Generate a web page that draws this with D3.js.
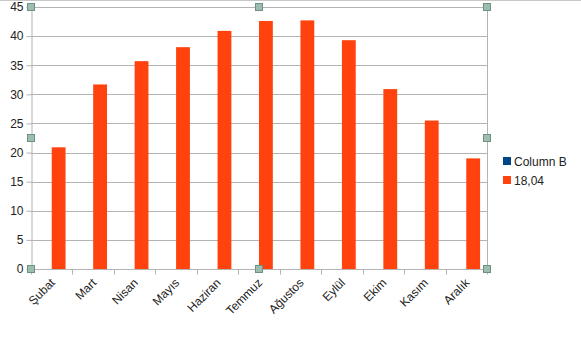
<!DOCTYPE html>
<html>
<head>
<meta charset="utf-8">
<script src="https://d3js.org/d3.v7.min.js"></script>
<style>
  body { margin: 0; background: #fff; }
  text { font-family: "Liberation Sans", Arial, sans-serif; }
</style>
</head>
<body>
<div id="chart"></div>
<script>
'use strict';

// data
const months = ["Şubat", "Mart", "Nisan", "Mayıs", "Haziran", "Temmuz",
  "Ağustos", "Eylül", "Ekim", "Kasım", "Aralık"];
const seriesNames = ["Column B", "18,04"];
const seriesColors = ["#004586", "#ff420e"];
const columnB = [null, null, null, null, null, null, null, null, null, null, null];
const values1804 = [20.9, 31.7, 35.7, 38.1, 40.9, 42.6, 42.7, 39.3, 30.9, 25.5, 19.0];
const yTicks = [0, 5, 10, 15, 20, 25, 30, 35, 40, 45];

const W = 581, H = 339;
let margin = {top: 7, right: 94, bottom: 70, left: 31},
  width = W - margin.left - margin.right,
  height = H - margin.top - margin.bottom;

let svg = d3.select("#chart").append("svg")
  .attr("width", W)
  .attr("height", H);

// thin frame line at the top of the window
svg.append("line")
  .attr("x1", 0).attr("x2", W)
  .attr("y1", 0.5).attr("y2", 0.5)
  .style("stroke", "#c8c8c8");

let g = svg.append("g")
  .attr("transform", "translate(" + margin.left + "," + margin.top + ")");

let x = d3.scaleBand()
  .domain(months)
  .range([0, width]);

// two series side by side in each category (Column B is empty)
let x1 = d3.scaleBand()
  .domain(seriesNames)
  .range([0, x.bandwidth()])
  .paddingOuter(0.5)
  .paddingInner(0);

let y = d3.scaleLinear()
  .domain([0, 45])
  .range([height, 0]);

// gridlines
g.append("g")
  .selectAll("line")
  .data(yTicks)
  .enter()
  .append("line")
  .attr("x1", 0).attr("x2", width)
  .attr("y1", d => Math.round(y(d)) + 0.5)
  .attr("y2", d => Math.round(y(d)) + 0.5)
  .style("stroke", "#b3b3b3");

// right border of plot area
g.append("line")
  .attr("x1", width + 0.5).attr("x2", width + 0.5)
  .attr("y1", 0).attr("y2", height)
  .style("stroke", "#b3b3b3");

// bars
const rows = months.map((m, i) => ({month: m, vals: [columnB[i], values1804[i]]}));
let groups = g.selectAll(".grp")
  .data(rows)
  .enter()
  .append("g")
  .attr("transform", d => "translate(" + x(d.month) + ",0)");

groups.selectAll("rect")
  .data(d => d.vals.map((v, k) => ({name: seriesNames[k], value: v, k: k})).filter(d => d.value != null))
  .enter()
  .append("rect")
  .attr("x", d => x1(d.name))
  .attr("y", d => y(d.value))
  .attr("width", x1.bandwidth())
  .attr("height", d => y(0) - y(d.value))
  .style("fill", d => seriesColors[d.k]);

// y axis
let yAxis = g.append("g")
  .attr("transform", "translate(0.5,0)")
  .call(d3.axisLeft(y).tickValues(yTicks).tickSize(5).tickPadding(3).tickSizeOuter(0));
yAxis.select(".domain").style("stroke", "#b3b3b3");
yAxis.selectAll(".tick line").style("stroke", "#b3b3b3");
yAxis.selectAll("text")
  .style("font-size", "12px")
  .style("fill", "#222");

// x axis: ticks at category boundaries
let xAx = g.append("g")
  .attr("transform", "translate(0," + (height + 0.5) + ")");
xAx.append("line")
  .attr("x1", 0).attr("x2", width)
  .style("stroke", "#b3b3b3");
xAx.selectAll(".bt")
  .data(months.concat(["end"]))
  .enter()
  .append("line")
  .attr("x1", (d, i) => Math.round(i * x.step()) + 0.5)
  .attr("x2", (d, i) => Math.round(i * x.step()) + 0.5)
  .attr("y1", 0).attr("y2", 5)
  .style("stroke", "#b3b3b3");
xAx.selectAll(".lbl")
  .data(months)
  .enter()
  .append("text")
  .attr("text-anchor", "end")
  .attr("transform", d => "translate(" + (x(d) + x.bandwidth() / 2 + 4) + ",14) rotate(-45)")
  .style("font-size", "12px")
  .style("fill", "#222")
  .text(d => d);

// legend
let legend = svg.append("g")
  .attr("transform", "translate(503,157)");
seriesNames.forEach((name, i) => {
  legend.append("rect")
    .attr("x", 0).attr("y", i * 19)
    .attr("width", 8).attr("height", 8)
    .style("fill", seriesColors[i]);
  legend.append("text")
    .attr("x", 11).attr("y", i * 19 + 8.5)
    .style("font-size", "12px")
    .style("fill", "#222")
    .text(name);
});

// selection handles around the plot area
const hx = [0, width / 2, width];
const hy = [0, height / 2, height];
let handles = [];
hx.forEach((a, i) => hy.forEach((b, j) => {
  if (!(i == 1 && j == 1)) handles.push([a, b]);
}));
g.selectAll(".handle")
  .data(handles)
  .enter()
  .append("rect")
  .attr("x", d => Math.round(d[0]) - 3.5)
  .attr("y", d => Math.round(d[1]) - 3.5)
  .attr("width", 7).attr("height", 7)
  .style("fill", "#9dbdaf")
  .style("stroke", "#6e9282");
</script>
</body>
</html>
